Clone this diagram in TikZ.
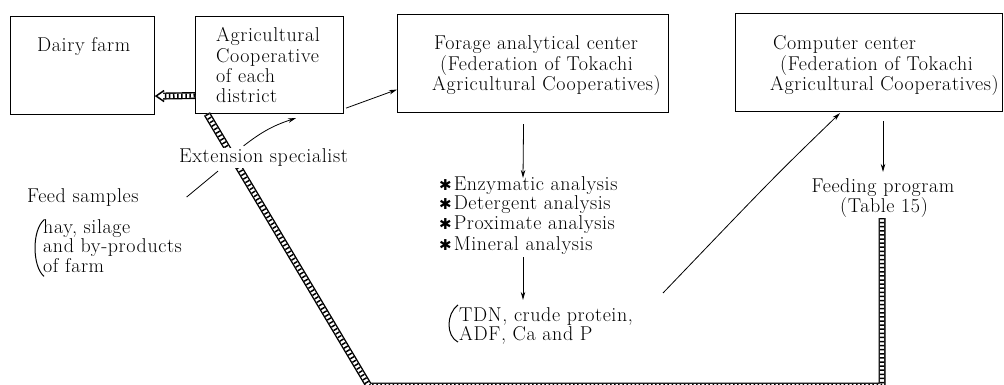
\documentclass[tikz,border=0pt]{standalone}
\usepackage{fontspec}
\setmainfont{Latin Modern Roman}[LetterSpace=3]
\newfontfamily\symfont{DejaVu Sans}
\usetikzlibrary{arrows.meta}
\begin{document}
\begin{tikzpicture}[x=1pt,y=-1pt,
  box/.style={draw, line width=1.1pt, inner sep=0pt, anchor=north west},
  txt/.style={anchor=base west, inner sep=0pt, font=\fontsize{20}{21}\selectfont},
  ctxt/.style={anchor=base, inner sep=0pt, font=\fontsize{20}{21}\selectfont},
  arr/.style={line width=0.8pt, -{Stealth[length=8pt,width=4.5pt]}},
  thinline/.style={line width=0.8pt},
  paren/.style={line width=1pt},
  hatchband/.style={line width=7pt, line join=miter,
    postaction={draw=white, line width=4.2pt},
    postaction={draw=black, line width=4.2pt, dash pattern=on 1.5pt off 2.6pt}}]
\useasboundingbox (0,0) rectangle (1004,385);
\clip (0,0) rectangle (1004,385);

% boxes
\node[box, minimum width=144pt, minimum height=98pt] (dairy) at (10,16) {};
\node[box, minimum width=148pt, minimum height=97pt] (coop) at (195,16) {};
\node[box, minimum width=271pt, minimum height=98pt] (forage) at (397,14) {};
\node[box, minimum width=267pt, minimum height=98pt] (comp) at (735,13) {};

% box texts
\node[txt] (dairyT) at (37,52) {Dairy farm};
\node[txt] (coop1) at (216,42) {Agricultural};
\node[txt] (coop2) at (216,63) {Cooperative};
\node[txt] (coop3) at (216,83) {of each};
\node[txt] (coop4) at (216,103) {district};
\node[txt] (for1) at (434,50) {Forage analytical center};
\node[txt] (for2) at (440,71) {(Federation of Tokachi};
\node[txt] (for3) at (432,91) {Agricultural Cooperatives)};
\node[txt] (com1) at (773,50) {Computer center};
\node[txt] (com2) at (780,71) {(Federation of Tokachi};
\node[txt] (com3) at (770,91) {Agricultural Cooperatives)};

% lower right texts
\node[ctxt] (feedp) at (883,192) {Feeding program};
\node[ctxt] (table) at (884,212) {(Table 15)};

% hatched bands
\coordinate (bandA) at (207,114);
\coordinate (bandB) at (369,386);
\coordinate (bandC) at (882,386);
\coordinate (bandD) at ([xshift=-2pt,yshift=-1pt]table.south);
\draw[hatchband] (bandA) -- (bandB) -- (bandC) -- (bandD);
\draw[hatchband] ([yshift=-30.5pt]coop.west) -- ([xshift=8pt,yshift=-30.5pt]dairy.east);
\draw[line width=1.5pt, line join=miter]
  ([xshift=9pt,yshift=-25pt]dairy.east) -- ([xshift=1pt,yshift=-30.5pt]dairy.east) -- ([xshift=9pt,yshift=-36pt]dairy.east);

% left texts
\node[txt, fill=white, inner sep=1pt] (ext) at (178,163) {Extension specialist};
\node[txt] (feed) at (27,202) {Feed samples};
\node[txt] (hay1) at (43,233) {hay, silage};
\node[txt] (hay2) at (43,252) {and by-products};
\node[txt] (hay3) at (43,272) {of farm};
\draw[paren] ([xshift=1pt,yshift=-1pt]hay1.north west) .. controls (32,230) and (32,266) .. ([xshift=1pt,yshift=-4pt]hay3.south west);

% analysis list
\node[txt] (an1) at (439,190) {{\symfont\fontsize{15}{15}\selectfont ✱}\hspace{2pt}Enzymatic analysis};
\node[txt] (an2) at (439,209) {{\symfont\fontsize{15}{15}\selectfont ✱}\hspace{2pt}Detergent analysis};
\node[txt] (an3) at (439,229) {{\symfont\fontsize{15}{15}\selectfont ✱}\hspace{2pt}Proximate analysis};
\node[txt] (an4) at (439,250) {{\symfont\fontsize{15}{15}\selectfont ✱}\hspace{2pt}Mineral analysis};

% results
\node[txt] (tdn1) at (459,321) {TDN, crude protein,};
\node[txt] (tdn2) at (459,340) {ADF, Ca and P};
\draw[paren] ([xshift=-1pt,yshift=2pt]tdn1.north west) .. controls (446,314) and (446,336) .. ([xshift=-1pt,yshift=2pt]tdn2.south west);

% connectors
\draw[arr] ([xshift=2pt,yshift=6pt]coop.south east) -- ([yshift=-26pt]forage.west);
\draw[arr] ([xshift=-20pt,yshift=2pt]ext.north) to[bend left=10] ([xshift=101pt,yshift=-4pt]coop.south west);
\draw[thinline] ([xshift=48pt]feed.east) -- ([xshift=40pt,yshift=-3pt]ext.south west);
\draw[arr] ([xshift=-9.5pt,yshift=-11pt]forage.south) -- ([xshift=84pt,yshift=-2pt]an1.north west);
\draw[arr] ([xshift=84pt,yshift=-3pt]an4.south west) -- ([xshift=64pt,yshift=7pt]tdn1.north west);
\draw[arr] ([xshift=148pt,yshift=-9pt]comp.south west) -- ([yshift=6pt]feedp.north);
\coordinate (lc) at (663,293);
\draw[arr] (lc) .. controls (775,176) .. ([xshift=105pt,yshift=-1pt]comp.south west);
\end{tikzpicture}
\end{document}
